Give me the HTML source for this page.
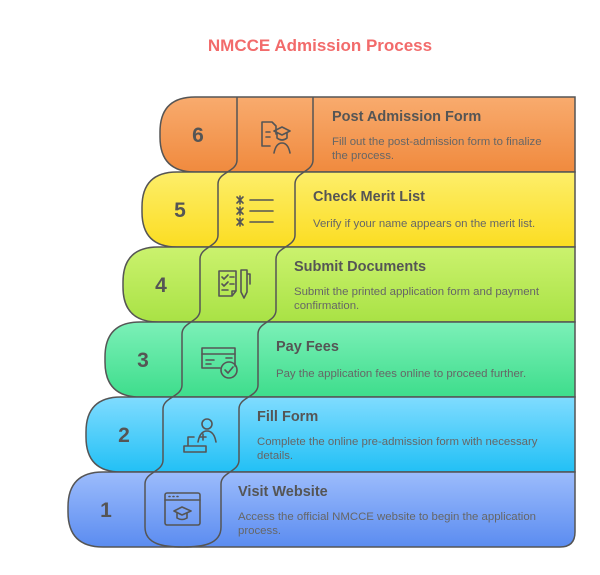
<!DOCTYPE html>
<html><head><meta charset="utf-8"><style>
html,body{margin:0;padding:0;background:#fff;}
svg{display:block;font-family:"Liberation Sans",sans-serif;}
.h{font-weight:bold;font-size:14.5px;fill:#555;}
.d{font-size:11.4px;fill:#666;}
.n{font-weight:bold;font-size:21px;fill:#555;text-anchor:middle;}
.ic{fill:none;stroke:#555;stroke-width:1.6;stroke-linecap:round;stroke-linejoin:round;}
</style></head><body>
<svg width="600" height="575" viewBox="0 0 600 575">
<defs>
<linearGradient id="g6" x1="0" y1="0" x2="0" y2="1"><stop offset="0" stop-color="#f8ab6e"/><stop offset="1" stop-color="#f08a3e"/></linearGradient>
<linearGradient id="g5" x1="0" y1="0" x2="0" y2="1"><stop offset="0" stop-color="#fdee6a"/><stop offset="1" stop-color="#fbdd22"/></linearGradient>
<linearGradient id="g4" x1="0" y1="0" x2="0" y2="1"><stop offset="0" stop-color="#cbf26e"/><stop offset="1" stop-color="#a9e245"/></linearGradient>
<linearGradient id="g3" x1="0" y1="0" x2="0" y2="1"><stop offset="0" stop-color="#7cf0b8"/><stop offset="1" stop-color="#3edd8c"/></linearGradient>
<linearGradient id="g2" x1="0" y1="0" x2="0" y2="1"><stop offset="0" stop-color="#80dcff"/><stop offset="1" stop-color="#22c0f5"/></linearGradient>
<linearGradient id="g1" x1="0" y1="0" x2="0" y2="1"><stop offset="0" stop-color="#9cbcfc"/><stop offset="1" stop-color="#5b8cf0"/></linearGradient>
</defs>
<text x="320" y="51" text-anchor="middle" font-weight="bold" font-size="17" fill="#f26b6b">NMCCE Admission Process</text>

<g stroke="#555" stroke-width="1.5">
<path fill="url(#g6)" d="M575,97 H195 Q160,97 160,132 V137 Q160,172 195,172 H575 Z"/>
<path fill="url(#g5)" d="M575,172 H177 Q142,172 142,207 V212 Q142,247 177,247 H575 Z"/>
<path fill="url(#g4)" d="M575,247 H158 Q123,247 123,282 V287 Q123,322 158,322 H575 Z"/>
<path fill="url(#g3)" d="M575,322 H140 Q105,322 105,357 V362 Q105,397 140,397 H575 Z"/>
<path fill="url(#g2)" d="M575,397 H121 Q86,397 86,432 V437 Q86,472 121,472 H575 Z"/>
<path fill="url(#g1)" d="M575,472 H103 Q68,472 68,507 V512 Q68,547 103,547 H560 Q575,547 575,532 Z"/>
<path fill="none" d="M237,97 V160 C237,172 218,172 218,184 V235 C218,247 200,247 200,259 V310 C200,322 182,322 182,334 V385 C182,397 163,397 163,409 V460 C163,472 145,472 145,484 V527 C145,545 165,547 183,547 C201,547 221,545 221,527 V484 C221,472 239,472 239,460 V409 C239,397 258,397 258,385 V334 C258,322 276,322 276,310 V259 C276,247 295,247 295,235 V184 C295,172 313,172 313,160 V97"/>
</g>

<text class="n" x="198" y="142">6</text>
<text class="n" x="180" y="217">5</text>
<text class="n" x="161" y="292">4</text>
<text class="n" x="143" y="367">3</text>
<text class="n" x="124" y="442">2</text>
<text class="n" x="106" y="517">1</text>

<text class="h" x="332" y="121">Post Admission Form</text>
<text class="d" x="332" y="145">Fill out the post-admission form to finalize</text>
<text class="d" x="332" y="159">the process.</text>
<text class="h" x="313" y="201">Check Merit List</text>
<text class="d" x="313" y="227">Verify if your name appears on the merit list.</text>
<text class="h" x="294" y="271">Submit Documents</text>
<text class="d" x="294" y="295">Submit the printed application form and payment</text>
<text class="d" x="294" y="309">confirmation.</text>
<text class="h" x="276" y="351">Pay Fees</text>
<text class="d" x="276" y="377">Pay the application fees online to proceed further.</text>
<text class="h" x="257" y="421">Fill Form</text>
<text class="d" x="257" y="445">Complete the online pre-admission form with necessary</text>
<text class="d" x="257" y="459">details.</text>
<text class="h" x="238" y="496">Visit Website</text>
<text class="d" x="238" y="520">Access the official NMCCE website to begin the application</text>
<text class="d" x="238" y="534">process.</text>

<g class="ic">
<path d="M262,122 H272 L276,126 V134 M262,122 V146 H270"/>
<path d="M266,132 H270 M266,137 H270"/>
<path d="M274,131 L282,127 L290,131 L282,135 Z M277,133 V138 Q282,142 287,138 V133"/>
<path d="M274,153 Q276,143 282,143 Q288,143 290,153"/>
<path d="M237,197 L243,203 M243,197 L237,203 M240,196 V204 M237,208 L243,214 M243,208 L237,214 M240,207 V215 M237,219 L243,225 M243,219 L237,225 M240,218 V226"/>
<path d="M250,200 H273 M250,211 H273 M250,222 H273"/>
<path d="M219,271 H236 V291 L232,296 H219 Z M232,296 V291 H236"/>
<path d="M222,277 L224,279 L228,275 M230,277 H234 M222,284 L224,286 L228,282 M230,284 H234 M222,290 H228"/>
<path d="M241,270 H247 V292 L244,298 L241,292 Z M247,274 H250 V284"/>
<path d="M235,366 V348 H202 V368 H220"/>
<path d="M202,354 H235 M206,360 H214 M206,364 H211 M226,358 H232"/>
<circle cx="229" cy="370" r="8"/>
<path d="M225,370 L228,373 L233,367"/>
<circle cx="207" cy="424" r="5"/>
<path d="M198,442 Q200,431 207,431 Q214,431 216,442"/>
<path d="M203,434 V440 M200,437 H206"/>
<path d="M188,437 H194 M188,437 V446 M184,446 H206 V452 H184 Z"/>
<rect x="165" y="493" width="35" height="32" rx="2"/>
<path d="M165,500 H200"/>
<path d="M169,496.5 H170 M173,496.5 H174 M177,496.5 H178"/>
<path d="M174,511 L182,507 L191,511 L182,515 Z M177,513 V518 Q182,521 187,518 V513"/>
</g>
</svg>
</body></html>
